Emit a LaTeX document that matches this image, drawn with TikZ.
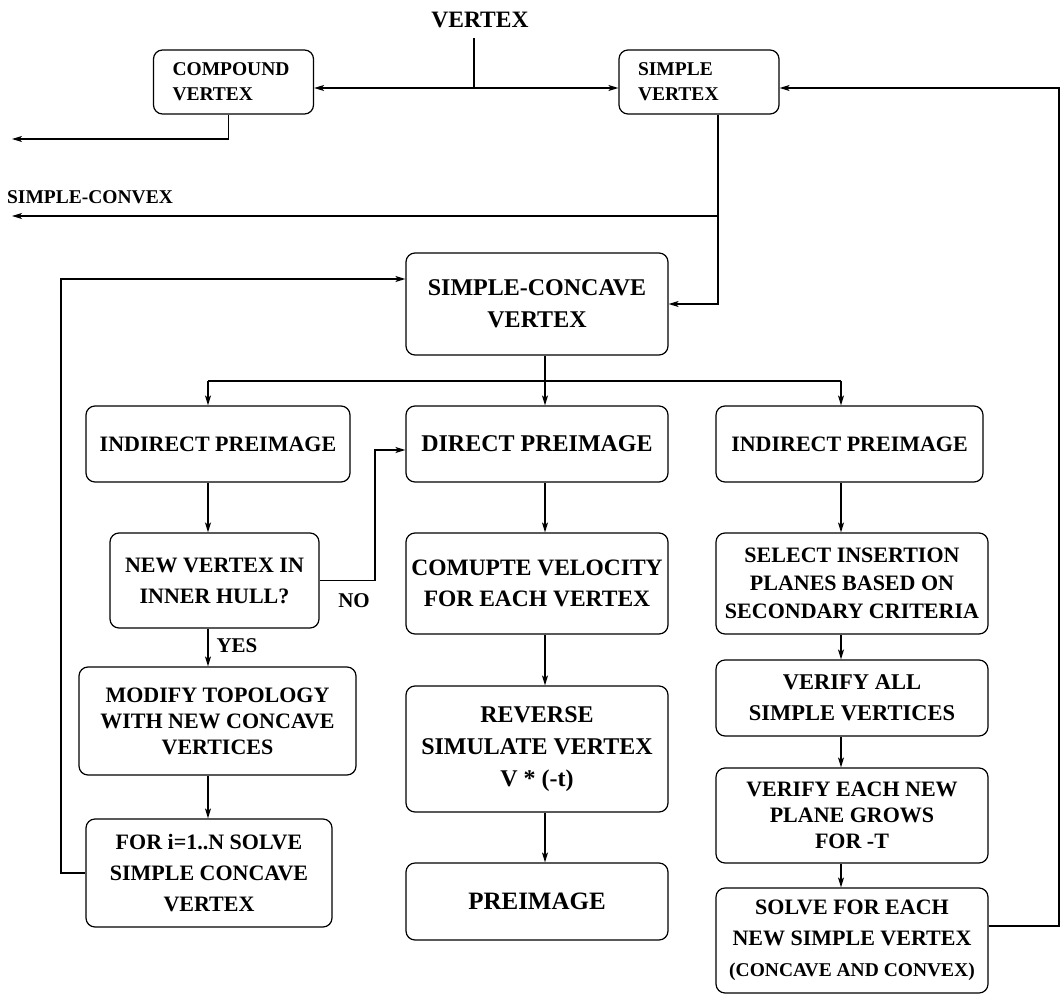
\documentclass[tikz,border=0pt]{standalone}
\usepackage{fontspec}
\setmainfont{Liberation Serif}
\usetikzlibrary{arrows.meta}

\begin{document}
\begin{tikzpicture}[x=1pt,y=-1pt,>={Stealth[length=10pt,width=6pt,inset=2.5pt]},line width=1.2pt,
  blk/.style={draw,rounded corners=9pt,align=center,inner sep=0pt},
  tbox/.style={blk,align=left,text width=122pt,inner xsep=19pt,minimum height=64pt},
  font=\bfseries\fontsize{22}{28}\selectfont]
\useasboundingbox (0,0) rectangle (1062,995);
% top row
\node[font=\bfseries\fontsize{23.5}{28}\selectfont] (vlab) at (480,20) {VERTEX};
\node[tbox,font=\bfseries\fontsize{19.5}{25}\selectfont] (cmp) at (233.5,82) {COMPOUND\\VERTEX};
\node[tbox,font=\bfseries\fontsize{19.5}{25}\selectfont] (smp) at (699,82) {SIMPLE\\VERTEX};
\node[font=\bfseries\fontsize{19.5}{24}\selectfont] (scx) at (90,197) {SIMPLE-CONVEX};
\node[blk,minimum width=262pt,minimum height=102pt,font=\bfseries\fontsize{24}{32}\selectfont] (scc) at (537,304) {SIMPLE-CONCAVE\\VERTEX};
% second row
\node[blk,minimum width=264pt,minimum height=76pt] (ind1) at (218,444) {INDIRECT PREIMAGE};
\node[blk,minimum width=262pt,minimum height=76pt,font=\bfseries\fontsize{24}{28}\selectfont] (dir) at (537,444) {DIRECT PREIMAGE};
\node[blk,minimum width=267pt,minimum height=76pt] (ind2) at (849.5,444) {INDIRECT PREIMAGE};
% left column
\node[blk,minimum width=209pt,minimum height=95pt,font=\bfseries\fontsize{22}{31}\selectfont] (nvx) at (214.5,580.5) {NEW VERTEX IN\\INNER HULL?};
\node[blk,minimum width=277pt,minimum height=108pt,font=\bfseries\fontsize{22}{26}\selectfont] (mod) at (217.5,721) {MODIFY TOPOLOGY\\WITH NEW CONCAVE\\VERTICES};
\node[blk,minimum width=246pt,minimum height=108pt,font=\bfseries\fontsize{22}{31}\selectfont] (fori) at (209,873) {FOR i=1..N SOLVE\\SIMPLE CONCAVE\\VERTEX};
% middle column
\node[blk,minimum width=262pt,minimum height=101pt,font=\bfseries\fontsize{23.5}{31}\selectfont] (cvel) at (537,583.5) {COMUPTE VELOCITY\\FOR EACH VERTEX};
\node[blk,minimum width=262pt,minimum height=126pt,font=\bfseries\fontsize{24}{32}\selectfont] (rev) at (537,749) {REVERSE\\SIMULATE VERTEX\\V * (-t)};
\node[blk,minimum width=262pt,minimum height=77pt,font=\bfseries\fontsize{25}{28}\selectfont] (pre) at (537,901.5) {PREIMAGE};
% right column
\node[blk,minimum width=272pt,minimum height=101pt] (sel) at (852,583.5) {SELECT INSERTION\\PLANES BASED ON\\SECONDARY CRITERIA};
\node[blk,minimum width=272pt,minimum height=76pt,font=\bfseries\fontsize{22.5}{31}\selectfont] (vall) at (852,698) {VERIFY ALL\\SIMPLE VERTICES};
\node[blk,minimum width=272pt,minimum height=95pt,font=\bfseries\fontsize{22}{26}\selectfont] (vnew) at (852,815.5) {VERIFY EACH NEW\\PLANE GROWS\\FOR -T};
\node[blk,minimum width=272pt,minimum height=105pt,font=\bfseries\fontsize{22}{31}\selectfont] (solve) at (852,940.5) {SOLVE FOR EACH\\NEW SIMPLE VERTEX\\{\fontsize{19.5}{31}\selectfont (CONCAVE AND CONVEX)}};
% branch labels
\node[font=\bfseries\fontsize{21}{24}\selectfont] (yes) at (237,646) {YES};
\node[font=\bfseries\fontsize{21}{24}\selectfont] (no) at (354,601) {NO};
% junctions
\coordinate (vtop) at (474,38);
\coordinate (vj) at (474,88);
\coordinate (rt) at (1059,88);
\coordinate (rb) at (1059,926);
\coordinate (cl) at (12,139);
\coordinate (sj) at (718,216);
\coordinate (sl) at (12,216);
\coordinate (ll) at (61,279);
\coordinate (lc) at (208,381);
\coordinate (mc) at (545,381);
\coordinate (rc) at (841,381);
\coordinate (nc) at (375,450);
% connectors
\draw (vtop) -- (vj);
\draw[->] (vj) -- (cmp.east |- vj);
\draw[->] (vj) -- (smp.west |- vj);
\draw[->] (solve.east |- rb) -- (rb) -- (rt) -- (smp.east |- rt);
\draw[->] ([xshift=-5pt]cmp.south) |- (cl);
\draw (smp.south -| sj) -- (sj);
\draw[->] (sj) -- (sl);
\draw[->] (sj) |- (scc.east);
\draw[->] (fori.west) -| (ll) -- (scc.west |- ll);
\draw (scc.south -| mc) -- (mc);
\draw (lc) -- (rc);
\draw[->] (lc) -- (ind1.north -| lc);
\draw[->] (mc) -- (dir.north -| mc);
\draw[->] (rc) -- (ind2.north -| rc);
\foreach \a/\b/\c in {ind1/nvx/lc,nvx/mod/lc,mod/fori/lc,dir/cvel/mc,cvel/rev/mc,rev/pre/mc,ind2/sel/rc,sel/vall/rc,vall/vnew/rc,vnew/solve/rc}
  \draw[->] (\a.south -| \c) -- (\b.north -| \c);
\draw[->] (nvx.east) -| (nc) -- (dir.west |- nc);
\end{tikzpicture}
\end{document}
